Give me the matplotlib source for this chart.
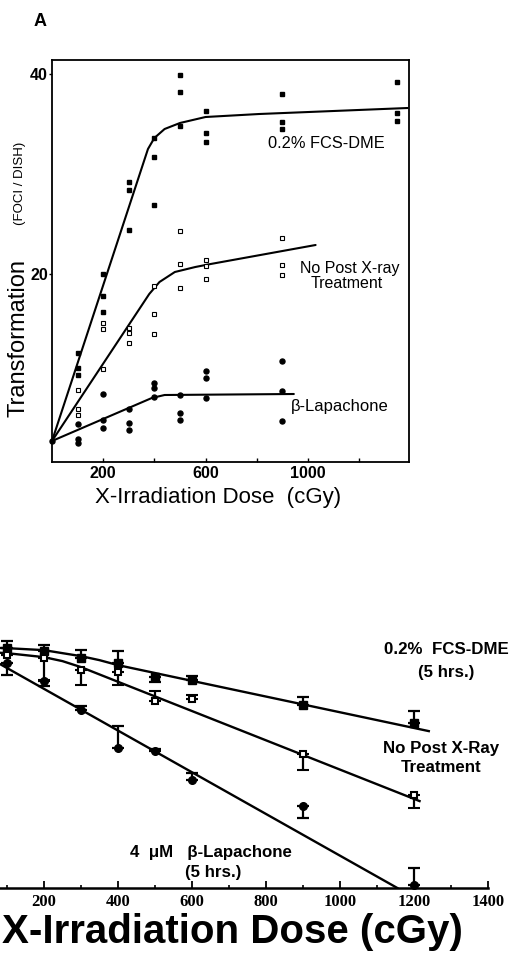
import numpy as np
import matplotlib.pyplot as plt
from matplotlib.ticker import FixedLocator, MultipleLocator, NullLocator

plt.rcParams['font.family'] = ['Liberation Sans', 'DejaVu Sans']

# ---- panel A: transformation (foci / dish) vs dose ----
doses_a = [100, 200, 300, 400, 500, 600, 900, 1350]
fcs_a = [[12.1, 10.6, 9.9], [20.0, 17.8, 16.2], [29.2, 28.4, 24.4], [33.6, 31.7, 26.9],
         [39.9, 38.2, 34.8], [36.3, 34.1, 33.2], [38.0, 35.2, 34.5], [39.2, 36.1, 35.3]]
doses_np = [100, 200, 300, 400, 500, 600, 900]
nopost_a = [[8.4, 6.5, 5.9], [15.1, 14.5, 10.5], [14.6, 14.1, 13.1], [18.8, 16.0, 14.0],
            [24.3, 21.0, 18.6], [21.4, 20.8, 19.5], [23.6, 20.9, 19.9]]
doses_lap = [0, 100, 200, 300, 400, 500, 600, 900]
lap_a = [[3.3], [5.0, 3.5, 3.1], [8.0, 5.4, 4.6], [6.5, 5.1, 4.4], [9.1, 8.6, 7.7],
         [7.9, 6.1, 5.4], [10.3, 9.6, 7.6], [11.3, 8.3, 5.3]]

# hand-drawn fit lines of panel A
fcs_fit_x = [0, 375, 400, 440, 500, 600, 810, 1390]
fcs_fit_y = [3.3, 32.5, 33.6, 34.5, 35.1, 35.7, 36.0, 36.6]
np_fit_x = [0, 380, 420, 480, 560, 620, 1030]
np_fit_y = [3.3, 18.0, 19.2, 20.2, 20.7, 21.0, 22.9]
lap_fit_x = [0, 390, 440, 945]
lap_fit_y = [3.3, 7.6, 7.9, 8.0]

# ---- panel B: survival vs dose (left part cropped) ----
doses_b = [100, 200, 300, 400, 500, 600, 900, 1200]
fcs_sf = [0.97, 0.89, 0.73, 0.63, 0.42, 0.39, 0.19, 0.113]
fcs_hi = [1.19, 1.06, 0.92, 0.89, 0.42, 0.435, 0.24, 0.16]
fcs_lo = [0.97, 0.89, 0.73, 0.63, 0.367, 0.39, 0.19, 0.113]
np_sf = [0.80, 0.73, 0.52, 0.49, 0.213, 0.225, 0.047, 0.0144]
np_hi = [0.80, 0.73, 0.52, 0.49, 0.283, 0.253, 0.047, 0.0144]
np_lo = [0.80, 0.39, 0.336, 0.336, 0.213, 0.225, 0.0294, 0.0099]
lap_sf = [0.63, 0.377, 0.164, 0.0553, 0.0507, 0.0221, 0.0105, 0.00109]
lap_hi = [0.63, 0.377, 0.184, 0.104, 0.0536, 0.027, 0.0105, 0.00177]
lap_lo = [0.448, 0.327, 0.164, 0.0553, 0.0507, 0.0221, 0.00743, 0.00109]

fcs_line_x = [0, 100, 200, 250, 300, 350, 400, 1240]
fcs_line_y = [1.0, 0.972, 0.918, 0.842, 0.773, 0.689, 0.597, 0.090]
np_line_x = [0, 100, 200, 250, 300, 1215]
np_line_y = [0.892, 0.842, 0.751, 0.670, 0.564, 0.0121]
lap_line_x = [0, 1155]
lap_line_y = [1.0, 0.001]

W, H = 515, 975


def rect(x0, y0, x1, y1):
    return [x0 / W, 1 - y1 / H, (x1 - x0) / W, (y1 - y0) / H]


def flat(xs, groups):
    xx = np.concatenate([[x] * len(g) for x, g in zip(xs, groups)])
    yy = np.concatenate(groups)
    return xx, yy


def label(x, y, s, **kw):
    kw.setdefault('ha', 'center')
    kw.setdefault('va', 'center')
    fig.text(x / W, 1 - y / H, s, **kw)


fig = plt.figure(figsize=(W / 100, H / 100), dpi=100)

# ── panel A ─────────────────────────────────────────────
ax = fig.add_axes(rect(52, 60, 409, 462))
ax.set_xlim(0, 1395)
ax.set_ylim(1.2, 41.4)

for xs, ys in [(fcs_fit_x, fcs_fit_y), (np_fit_x, np_fit_y), (lap_fit_x, lap_fit_y)]:
    ax.plot(xs, ys, color='black', lw=1.5, solid_capstyle='round')

x, y = flat(doses_a, fcs_a)
ax.plot(x, y, 's', ms=3.0, color='black', mec='black')
x, y = flat(doses_np, nopost_a)
ax.plot(x, y, 's', ms=3.2, mfc='white', mec='black', mew=0.8)
x, y = flat(doses_lap, lap_a)
ax.plot(x, y, 'o', ms=3.6, color='black', clip_on=False)

for s in ax.spines.values():
    s.set_linewidth(1.3)
ax.xaxis.set_major_locator(FixedLocator([200, 400, 600, 800, 1000, 1200]))
ax.set_xticklabels(['200', '', '600', '', '1000', ''], fontweight='bold', fontsize=11.5)
ax.yaxis.set_major_locator(FixedLocator([20, 40]))
ax.set_yticklabels(['20', '40'], fontweight='bold', fontsize=11.5)
ax.tick_params(axis='x', direction='in', length=3, width=1, pad=3)
ax.tick_params(axis='y', direction='out', length=2.5, width=1, pad=0.5)

label(40, 22, 'A', fontsize=13, fontweight='bold')
label(19, 338, 'Transformation', fontsize=17, rotation=90)
label(20, 183, '(FOCI / DISH)', fontsize=9.5, rotation=90)
label(95, 497, 'X-Irradiation Dose  (cGy)', fontsize=16, ha='left')
label(268, 143, '0.2% FCS-DME', fontsize=11.8, ha='left')
label(300, 268, 'No Post X-ray', fontsize=11.5, ha='left')
label(347, 283, 'Treatment', fontsize=11.5)
label(291, 406, 'β-Lapachone', fontsize=12, ha='left')

# ── panel B ─────────────────────────────────────────────
bx = fig.add_axes(rect(-30, 623, 488, 888))
bx.set_xlim(0, 1400)
bx.set_yscale('log')
bx.set_ylim(0.001, 2.0)

for xs, ys in [(fcs_line_x, fcs_line_y), (np_line_x, np_line_y), (lap_line_x, lap_line_y)]:
    bx.plot(xs, ys, color='black', lw=1.7)


def err(sf, lo, hi):
    sf = np.array(sf)
    return [sf - np.array(lo), np.array(hi) - sf]


bx.errorbar(doses_b, fcs_sf, yerr=err(fcs_sf, fcs_lo, fcs_hi), fmt='s', ms=5.5,
            color='black', ecolor='black', elinewidth=1.6, capsize=4.5, capthick=1.6,
            clip_on=False)
bx.errorbar(doses_b, np_sf, yerr=err(np_sf, np_lo, np_hi), fmt='s', ms=5.0,
            mfc='white', mec='black', mew=1.5, ecolor='black', elinewidth=1.6,
            capsize=4.5, capthick=1.6, clip_on=False)
bx.errorbar(doses_b, lap_sf, yerr=err(lap_sf, lap_lo, lap_hi), fmt='o', ms=5.5,
            color='black', ecolor='black', elinewidth=1.6, capsize=4.5, capthick=1.6,
            clip_on=False)

for side in ['left', 'top', 'right']:
    bx.spines[side].set_visible(False)
bx.spines['bottom'].set_linewidth(1.8)
bx.yaxis.set_major_locator(NullLocator())
bx.yaxis.set_minor_locator(NullLocator())
bx.xaxis.set_major_locator(FixedLocator([200, 400, 600, 800, 1000, 1200, 1400]))
bx.xaxis.set_minor_locator(MultipleLocator(100))
bx.tick_params(axis='x', which='major', direction='in', length=5, width=1.3, pad=4,
               labelsize=12)
bx.tick_params(axis='x', which='minor', direction='in', length=2.5, width=1.2)
for lab in bx.get_xticklabels():
    lab.set_family('Liberation Serif')
    lab.set_fontweight('bold')

bold = dict(fontsize=12.2, fontweight='bold')
label(446, 650, '0.2%  FCS-DME', **bold)
label(446, 673, '(5 hrs.)', **bold)
label(441, 748, 'No Post X-Ray', **bold)
label(441, 767, 'Treatment', **bold)
label(130, 853, '4  μM   β-Lapachone', ha='left', **bold)
label(213, 872, '(5 hrs.)', **bold)
label(2, 932, 'X-Irradiation Dose (cGy)', fontsize=29, fontweight='bold', ha='left')

fig.savefig('out.png', dpi=100)
